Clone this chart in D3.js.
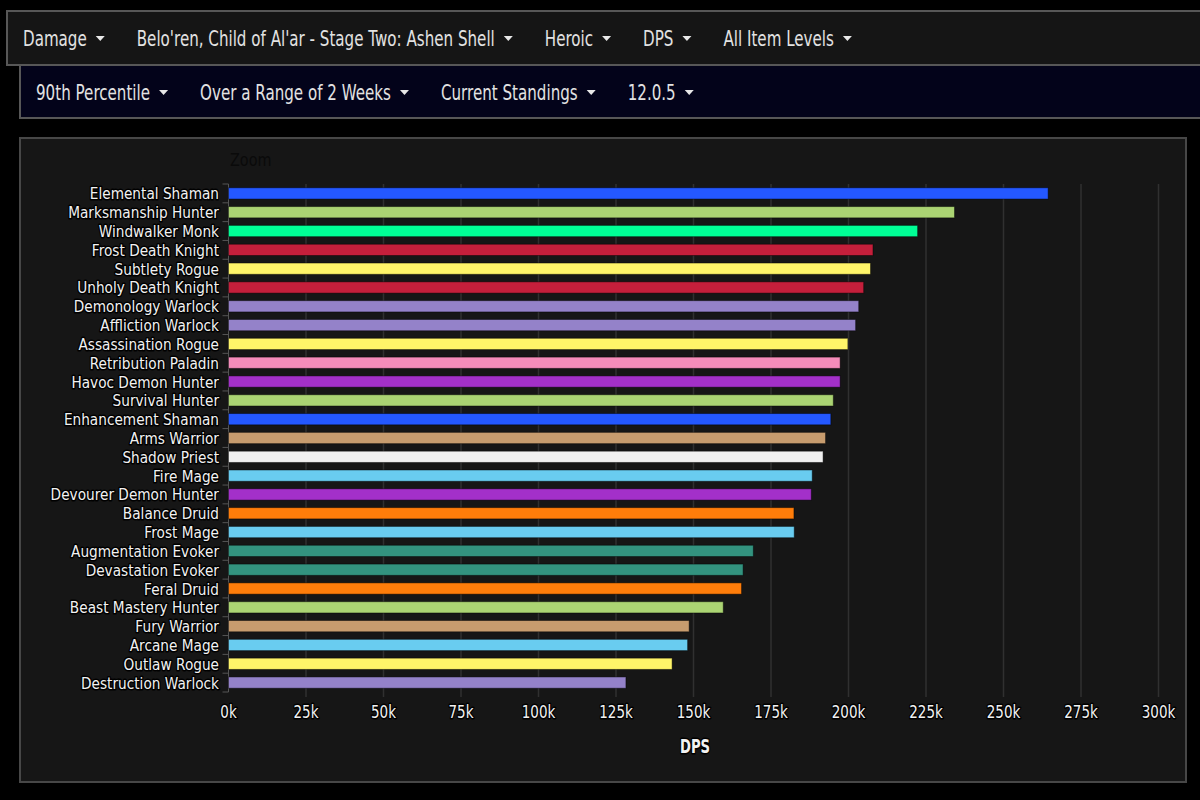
<!DOCTYPE html>
<html>
<head>
<meta charset="utf-8">
<script src="https://cdn.jsdelivr.net/npm/d3@7"></script>
<style>
    html, body { margin: 0; padding: 0; background: #000; }
    svg { display: block; }
    text { font-family: "DejaVu Sans", sans-serif; }
    .menu text { font-size: 21px; fill: #e2e2e2; }
    .lbl { fill: #f2f2f2; stroke: #000; stroke-width: 3px; paint-order: stroke; stroke-linejoin: round; }
</style>
</head>
<body>
<div id="chart-container"></div>
<script>
// Data spesifikasi (urut dari DPS tertinggi)
const specs = [
    "Elemental Shaman", "Marksmanship Hunter", "Windwalker Monk", "Frost Death Knight",
    "Subtlety Rogue", "Unholy Death Knight", "Demonology Warlock", "Affliction Warlock",
    "Assassination Rogue", "Retribution Paladin", "Havoc Demon Hunter", "Survival Hunter",
    "Enhancement Shaman", "Arms Warrior", "Shadow Priest", "Fire Mage",
    "Devourer Demon Hunter", "Balance Druid", "Frost Mage", "Augmentation Evoker",
    "Devastation Evoker", "Feral Druid", "Beast Mastery Hunter", "Fury Warrior",
    "Arcane Mage", "Outlaw Rogue", "Destruction Warlock"
];

// DPS persentil 90 (dalam ribuan)
const dpsValues = [
    264.4, 234.2, 222.3, 207.9, 207.1, 204.9, 203.3, 202.3,
    199.8, 197.3, 197.3, 195.1, 194.3, 192.6, 191.8, 188.3,
    188.0, 182.4, 182.5, 169.3, 166.0, 165.5, 159.6, 148.6,
    148.1, 143.1, 128.2
];

// Kelas untuk setiap spesifikasi
const specClasses = [
    "Shaman", "Hunter", "Monk", "DeathKnight", "Rogue", "DeathKnight", "Warlock", "Warlock",
    "Rogue", "Paladin", "DemonHunter", "Hunter", "Shaman", "Warrior", "Priest", "Mage",
    "DemonHunter", "Druid", "Mage", "Evoker", "Evoker", "Druid", "Hunter", "Warrior",
    "Mage", "Rogue", "Warlock"
];

const classColors = {
    Shaman: "#2458ff", Hunter: "#abd473", Monk: "#00ff96", DeathKnight: "#c41f3b",
    Rogue: "#fff569", Warlock: "#9482c9", Paladin: "#f58cba", DemonHunter: "#a330c9",
    Warrior: "#c79c6e", Priest: "#f0f0f0", Mage: "#69ccf0", Druid: "#ff7d0a", Evoker: "#33937f"
};

const xTicks = [0, 25, 50, 75, 100, 125, 150, 175, 200, 225, 250, 275, 300];

// Filter menu
const menuRow1 = ["Damage", "Belo'ren, Child of Al'ar - Stage Two: Ashen Shell", "Heroic", "DPS", "All Item Levels"];
const menuRow2 = ["90th Percentile", "Over a Range of 2 Weeks", "Current Standings", "12.0.5"];

const svg = d3.select("#chart-container")
    .append("svg")
    .attr("width", 1200)
    .attr("height", 800);

// Teks sempit: skala horizontal di sekitar titik jangkar
function narrowText(parent, x, y, str, sx) {
    return parent.append("text")
        .attr("transform", `translate(${x},${y}) scale(${sx},1)`)
        .text(str);
}

// Gambar baris menu
function drawMenu(items, x0, y0, h, bg, startX, baseline) {
    const SX = 0.72;
    const g = svg.append("g").attr("class", "menu");
    g.append("rect")
        .attr("x", x0).attr("y", y0)
        .attr("width", 1200 - x0 + 5).attr("height", h)
        .attr("fill", bg)
        .attr("stroke", "#575757").attr("stroke-width", 2);
    let x = startX;
    items.forEach((t) => {
        const txt = narrowText(g, x, baseline, t, SX);
        const w = txt.node().getComputedTextLength() * SX;
        const ax = x + w + 9;
        const ay = baseline - 7;
        g.append("path")
            .attr("d", `M${ax},${ay - 3}L${ax + 9},${ay - 3}L${ax + 4.5},${ay + 2}Z`)
            .attr("fill", "#e8e8e8");
        x = ax + 9 + 32;
    });
}
drawMenu(menuRow1, 7, 11, 54, "#151515", 23, 46);
drawMenu(menuRow2, 20, 65, 53, "#03031a", 36, 100);

// Panel grafik
svg.append("rect")
    .attr("x", 20).attr("y", 138)
    .attr("width", 1166).attr("height", 644)
    .attr("fill", "#161616")
    .attr("stroke", "#474747").attr("stroke-width", 2);

narrowText(svg, 230, 166, "Zoom", 0.8)
    .style("font-size", "18px")
    .attr("fill", "#0a0a0a");

const xScale = d3.scaleLinear().domain([0, 300]).range([228.5, 228.5 + 930]);
const yScale = d3.scaleBand().domain(specs).range([184, 692]).paddingInner(0.4).paddingOuter(0.2);
const step = yScale.step();

// Garis grid vertikal
svg.append("g")
    .selectAll("line")
    .data(xTicks.slice(1))
    .enter()
    .append("line")
    .attr("x1", (d) => xScale(d)).attr("x2", (d) => xScale(d))
    .attr("y1", 184).attr("y2", 697)
    .attr("stroke", "#303030").attr("stroke-width", 1.5);

// Sumbu Y (garis dan tick antar kategori)
const yAxisG = svg.append("g");
yAxisG.append("line")
    .attr("x1", xScale(0)).attr("x2", xScale(0))
    .attr("y1", 184).attr("y2", 692)
    .attr("stroke", "#555");
yAxisG.selectAll(".ytick")
    .data(d3.range(specs.length + 1))
    .enter()
    .append("line")
    .attr("x1", xScale(0) - 6).attr("x2", xScale(0))
    .attr("y1", (i) => 184 + i * step).attr("y2", (i) => 184 + i * step)
    .attr("stroke", "#555");

// Bar
svg.append("g")
    .selectAll(".bar")
    .data(specs)
    .enter()
    .append("rect")
    .attr("class", "bar")
    .attr("x", xScale(0))
    .attr("y", (d) => yScale(d))
    .attr("width", (d, i) => xScale(dpsValues[i]) - xScale(0))
    .attr("height", yScale.bandwidth())
    .attr("fill", (d, i) => classColors[specClasses[i]])
    .attr("stroke", "rgba(0,0,0,0.45)")
    .attr("stroke-width", 1);

// Label kategori
const yLabels = svg.append("g");
specs.forEach((d) => {
    narrowText(yLabels, 219, yScale(d) + yScale.bandwidth() / 2 + 6, d, 0.855)
        .attr("class", "lbl")
        .attr("text-anchor", "end")
        .style("font-size", "16px");
});

// Label tick sumbu X
const xLabels = svg.append("g");
xTicks.forEach((d) => {
    narrowText(xLabels, xScale(d), 718, d + "k", 0.75)
        .attr("class", "lbl")
        .attr("text-anchor", "middle")
        .style("font-size", "18px");
});

// Judul sumbu X
narrowText(svg, 695, 753, "DPS", 0.66)
    .attr("class", "lbl")
    .attr("text-anchor", "middle")
    .style("font-size", "20px")
    .style("font-weight", "bold");
</script>
</body>
</html>
